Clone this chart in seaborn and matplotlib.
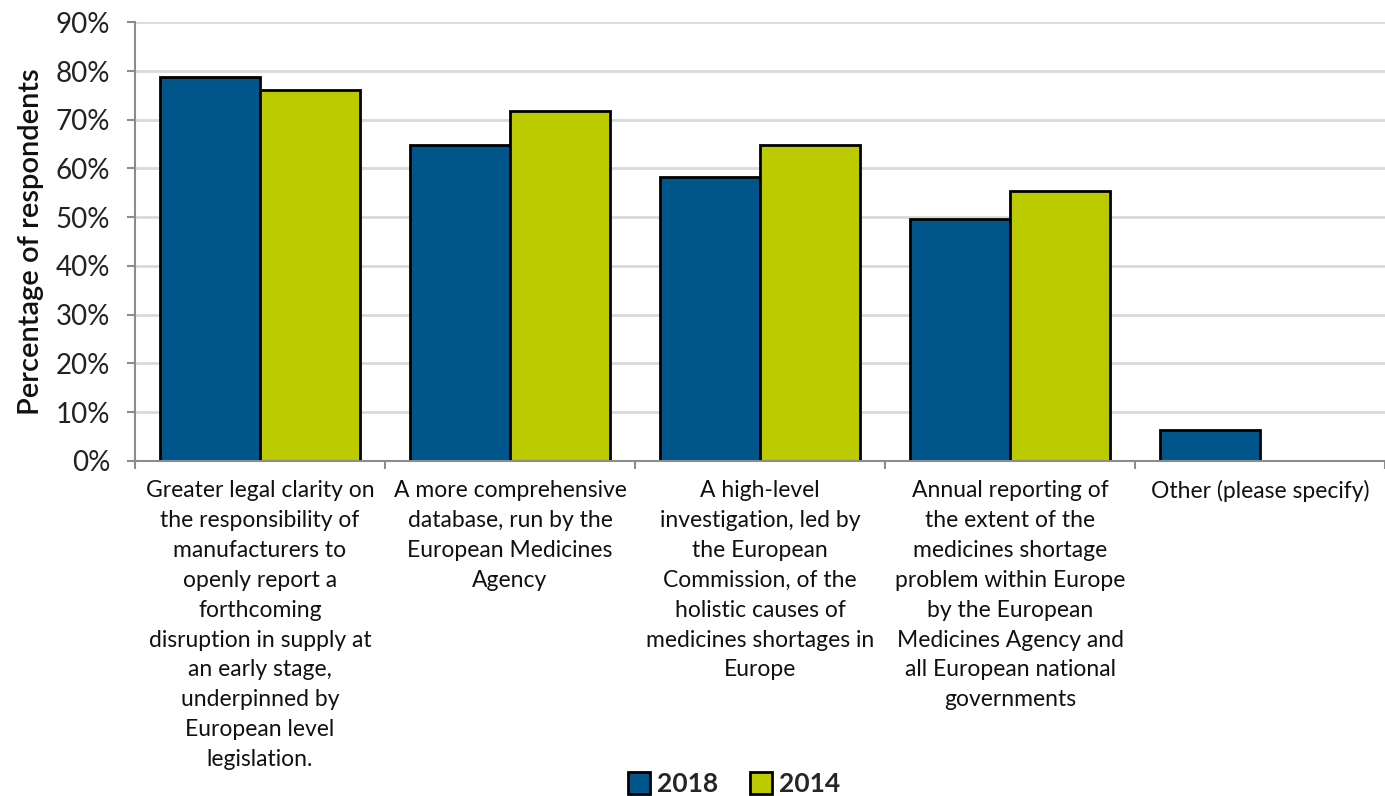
import matplotlib
matplotlib.use("Agg")
import matplotlib.pyplot as plt
import matplotlib.ticker as mticker
import pandas as pd
import seaborn as sns

categories = [
    "Greater legal clarity on\nthe responsibility of\nmanufacturers to\nopenly report a\nforthcoming\ndisruption in supply at\nan early stage,\nunderpinned by\nEuropean level\nlegislation.",
    "A more comprehensive\ndatabase, run by the\nEuropean Medicines\nAgency",
    "A high-level\ninvestigation, led by\nthe European\nCommission, of the\nholistic causes of\nmedicines shortages in\nEurope",
    "Annual reporting of\nthe extent of the\nmedicines shortage\nproblem within Europe\nby the European\nMedicines Agency and\nall European national\ngovernments",
    "Other (please specify)",
]
years = ["2018", "2014"]
values_2018 = [78.8, 64.8, 58.3, 49.6, 6.4]
values_2014 = [76.1, 71.7, 64.8, 55.4, None]  # no 2014 bar for "Other"
colors = {"2018": "#00558A", "2014": "#BCCB00"}

rows = []
for cat, v18, v14 in zip(categories, values_2018, values_2014):
    rows.append({"category": cat, "year": "2018", "pct": v18})
    if v14 is not None:
        rows.append({"category": cat, "year": "2014", "pct": v14})
df = pd.DataFrame(rows)

sns.set_style("white")
plt.rcParams["font.family"] = ["Lato", "DejaVu Sans"]

fig = plt.figure(figsize=(13.85, 7.96), dpi=100)
ax = fig.add_axes([0.0975, 0.421, 0.9025, 0.551])

sns.barplot(data=df, x="category", y="pct", hue="year", order=categories,
            hue_order=years, palette=colors, width=0.8, dodge=True,
            edgecolor="black", linewidth=2, saturation=1, ax=ax, legend=False)

ax.set_ylim(0, 90)
ax.set_xlim(-0.5, 4.5)
ax.yaxis.set_major_locator(mticker.MultipleLocator(10))
ax.yaxis.set_major_formatter(mticker.FuncFormatter(lambda v, p: f"{v:.0f}%"))
ax.grid(axis="y", color="#D9D9D9", linewidth=2)
ax.set_axisbelow(True)

for s in ["top", "right"]:
    ax.spines[s].set_visible(False)
for s in ["left", "bottom"]:
    ax.spines[s].set_color("#8C8C8C")
    ax.spines[s].set_linewidth(1.5)

ax.tick_params(axis="y", length=6, width=1.5, color="#8C8C8C", labelsize=20,
               left=True, pad=12, labelcolor="#222222")
ax.set_xticks(range(len(categories)))
ax.set_xticklabels(categories, fontsize=16.5, linespacing=1.52, va="top",
                   color="#111111")
ax.tick_params(axis="x", length=0, pad=14)
ax.set_xticks([i - 0.5 for i in range(len(categories) + 1)], minor=True)
ax.tick_params(axis="x", which="minor", length=6, width=1.5, color="#8C8C8C",
               bottom=True)

ax.set_xlabel("")
ax.set_ylabel("Percentage of respondents", fontsize=21, fontweight="semibold",
              labelpad=8, color="#111111")

handles = [plt.Rectangle((0, 0), 1, 1, facecolor=colors[y], edgecolor="black",
                         linewidth=2) for y in years]
fig.legend(handles, years, loc="lower center", bbox_to_anchor=(0.53, -0.03),
           ncol=2, frameon=False, prop={"size": 19, "weight": "bold"},
           handlelength=0.85, handleheight=0.85, handletextpad=0.25,
           columnspacing=1.2)

fig.savefig("out.png", dpi=100)
